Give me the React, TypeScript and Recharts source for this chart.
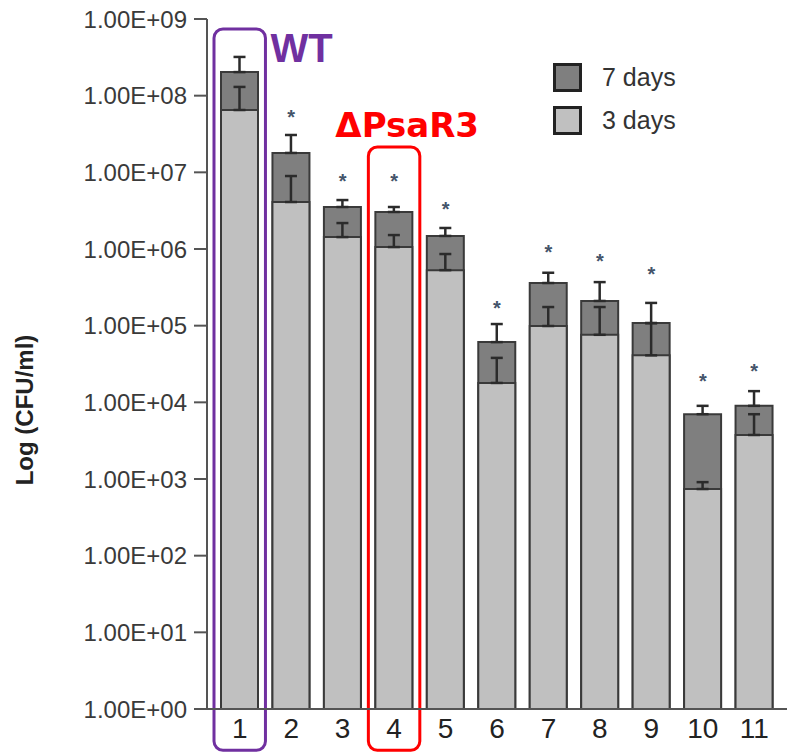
import {
  Bar,
  ComposedChart,
  ErrorBar,
  Legend,
  Line,
  ReferenceArea,
  XAxis,
  YAxis,
} from 'recharts'

// strain numbers along the x axis
const categories = ['1', '2', '3', '4', '5', '6', '7', '8', '9', '10', '11']

// CFU/ml
const sevenDays = [2.03e8, 1.79e7, 3.53e6, 3.04e6, 1.48e6, 6.1e4, 3.6e5, 2.1e5, 1.08e5, 7.0e3, 9.0e3]
const sevenDaysErrTop = [3.2e8, 3.07e7, 4.35e6, 3.53e6, 1.88e6, 1.05e5, 4.9e5, 3.7e5, 1.98e5, 9.0e3, 1.4e4]
const threeDays = [6.5e7, 4.1e6, 1.43e6, 1.06e6, 5.3e5, 1.79e4, 9.9e4, 7.6e4, 4.1e4, 7.4e2, 3.75e3]
const threeDaysErrTop = [1.3e8, 8.95e6, 2.18e6, 1.52e6, 8.6e5, 3.8e4, 1.75e5, 1.75e5, 1.08e5, 9.1e2, 7.0e3]

// where the significance asterisks sit (none over WT)
const asteriskAt = [null, 5.9e7, 8.7e6, 8.7e6, 3.75e6, 1.9e5, 1.03e6, 7.9e5, 5.3e5, 2.14e4, 2.9e4]

const yTicks = [1, 1e1, 1e2, 1e3, 1e4, 1e5, 1e6, 1e7, 1e8, 1e9]
const yTickLabels = [
  '1.00E+00', '1.00E+01', '1.00E+02', '1.00E+03', '1.00E+04',
  '1.00E+05', '1.00E+06', '1.00E+07', '1.00E+08', '1.00E+09',
]

const legendOrder = ['7 days', '3 days']

// annotation boxes: [category, bottom, top]
const wtBox = { cat: '1', y1: 0.29, y2: 7.4e8 }
const mutantBox = { cat: '4', y1: 0.29, y2: 2.14e7 }

const FONT = '"Liberation Sans", Arial, sans-serif'
const INK = {
  dark: '#7f7f7f',
  light: '#c0c0c0',
  edge: '#3a3a3a',
  err: '#2b2b2b',
  axis: '#555555',
  text: '#3a3a3a',
  star: '#44546a',
  wt: '#7030a0',
  mutant: '#ff0000',
}

const data = categories.map((name, i) => ({
  name,
  days7: sevenDays[i],
  err7: [0, sevenDaysErrTop[i] - sevenDays[i]],
  days3: threeDays[i],
  err3: [0, threeDaysErrTop[i] - threeDays[i]],
  star: asteriskAt[i],
}))

function StarDot(props: any) {
  const { cx, cy, index, value } = props
  if (value == null || cy == null) return <g key={`s-${index}`} />
  return (
    <text key={`s-${index}`} x={cx} y={cy + 11} textAnchor="middle" fontSize={20} fontWeight="bold" fill={INK.star} fontFamily={FONT}>
      *
    </text>
  )
}

function LegendBox(props: any) {
  const items = (props.payload || [])
    .filter((p: any) => p.type !== 'none')
    .sort((a: any, b: any) => legendOrder.indexOf(a.value) - legendOrder.indexOf(b.value))
  return (
    <div style={{ fontFamily: FONT }}>
      {items.map((p: any) => (
        <div key={p.value} style={{ display: 'flex', alignItems: 'center', height: 43 }}>
          <span
            style={{
              display: 'inline-block',
              width: 23,
              height: 23,
              background: p.color,
              border: '3px solid #222',
              marginRight: 20,
            }}
          />
          <span style={{ fontSize: 25, color: '#333' }}>{p.value}</span>
        </div>
      ))}
    </div>
  )
}

const roundedBox = (color: string) => (p: any) => (
  <rect x={p.x} y={p.y} width={p.width} height={p.height} rx={9} ry={9} fill="none" stroke={color} strokeWidth={3} />
)

export default function App() {
  return (
    <div style={{ position: 'absolute', left: 0, top: 0, background: '#fff' }}>
      <ComposedChart width={789} height={753} data={data} margin={{ top: 19, right: 2, bottom: 4, left: 0 }}>
        <XAxis
          xAxisId="back"
          dataKey="name"
          height={40}
          padding={{ left: 7, right: 7 }}
          stroke={INK.axis}
          strokeWidth={2}
          tickLine={false}
          tickSize={0}
          tickMargin={9}
          tick={{ fill: '#222', fontSize: 28, fontFamily: FONT }}
          interval={0}
        />
        <XAxis xAxisId="front" dataKey="name" hide padding={{ left: 7, right: 7 }} />
        <YAxis
          scale="log"
          domain={[1, 1e9]}
          ticks={yTicks}
          allowDataOverflow
          width={207}
          stroke={INK.axis}
          strokeWidth={2}
          tickSize={13}
          tickMargin={7}
          tick={{ fill: INK.text, fontSize: 24, fontFamily: FONT }}
          tickFormatter={(v: number) => yTickLabels[yTicks.indexOf(v)] ?? ''}
          label={(p: any) => {
            const vb = p.viewBox
            const cy = vb.y + vb.height / 2 + 46
            return (
              <text
                x={24}
                y={cy}
                transform={`rotate(-90, 24, ${cy})`}
                textAnchor="middle"
                dominantBaseline="central"
                fontSize={24}
                fontWeight="bold"
                fill="#222"
                fontFamily={FONT}
              >
                Log (CFU/ml)
              </text>
            )
          }}
        />
        <Legend
          layout="horizontal"
          verticalAlign="middle"
          align="center"
          wrapperStyle={{ position: 'absolute', top: 56, left: 553, width: 200, height: 90 }}
          content={(p: any) => <LegendBox {...p} />}
        />
        <Bar
          xAxisId="back"
          dataKey="days7"
          name="7 days"
          fill={INK.dark}
          stroke={INK.edge}
          strokeWidth={2}
          barSize={37}
          isAnimationActive={false}
        >
          <ErrorBar dataKey="err7" direction="y" width={6} stroke={INK.err} strokeWidth={2.5} />
        </Bar>
        <Bar
          xAxisId="front"
          dataKey="days3"
          name="3 days"
          fill={INK.light}
          stroke={INK.edge}
          strokeWidth={2}
          barSize={37}
          isAnimationActive={false}
        >
          <ErrorBar dataKey="err3" direction="y" width={6} stroke={INK.err} strokeWidth={2.5} />
        </Bar>
        <Line
          xAxisId="front"
          dataKey="star"
          stroke="none"
          legendType="none"
          dot={StarDot}
          activeDot={false}
          isAnimationActive={false}
        />
        <ReferenceArea
          xAxisId="back"
          x1={wtBox.cat}
          x2={wtBox.cat}
          y1={wtBox.y1}
          y2={wtBox.y2}
          ifOverflow="visible"
          shape={roundedBox(INK.wt)}
          label={(p: any) => (
            <text
              x={p.viewBox.x + p.viewBox.width + 5}
              y={p.viewBox.y + 33}
              fontSize={40}
              fontWeight="bold"
              fill={INK.wt}
              fontFamily={FONT}
            >
              WT
            </text>
          )}
        />
        <ReferenceArea
          xAxisId="back"
          x1={mutantBox.cat}
          x2={mutantBox.cat}
          y1={mutantBox.y1}
          y2={mutantBox.y2}
          ifOverflow="visible"
          shape={roundedBox(INK.mutant)}
          label={(p: any) => (
            <text
              x={p.viewBox.x - 33}
              y={p.viewBox.y - 10}
              fontSize={34}
              fontWeight="bold"
              fill={INK.mutant}
              fontFamily='"DejaVu Sans", sans-serif'
            >
              ΔPsaR3
            </text>
          )}
        />
      </ComposedChart>
    </div>
  )
}
